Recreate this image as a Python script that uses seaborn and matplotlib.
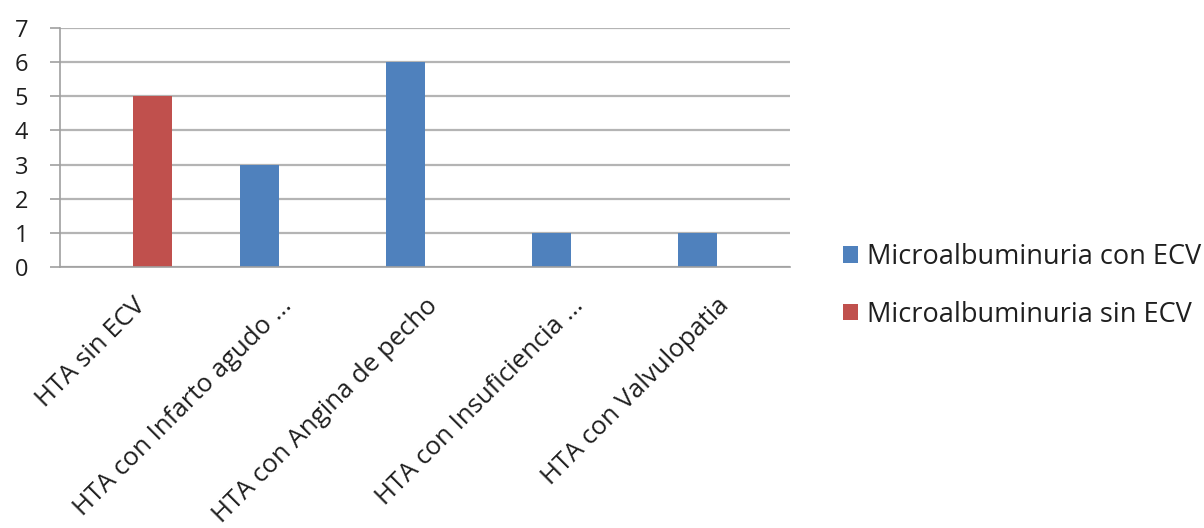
import matplotlib
matplotlib.use("Agg")
import matplotlib.pyplot as plt
import matplotlib.transforms as mtransforms
import seaborn as sns
import pandas as pd

categories = [
    "HTA sin ECV",
    "HTA con Infarto agudo ...",
    "HTA con Angina de pecho",
    "HTA con Insuficiencia ...",
    "HTA con Valvulopatia",
]
series_names = ["Microalbuminuria con ECV", "Microalbuminuria sin ECV"]
con_ecv = [0, 3, 6, 1, 1]
sin_ecv = [5, 0, 0, 0, 0]
y_ticks = [0, 1, 2, 3, 4, 5, 6, 7]

colors = ["#4F81BD", "#C0504D"]

df = pd.DataFrame({
    "categoria": categories * 2,
    "serie": [series_names[0]] * len(categories) + [series_names[1]] * len(categories),
    "valor": con_ecv + sin_ecv,
})

sns.set_style("white")
plt.rcParams["font.family"] = ["Open Sans", "DejaVu Sans"]
text_color = "#1f1f1f"

fig = plt.figure(figsize=(12.04, 5.28), dpi=100)
ax = fig.add_axes([0.0498, 0.4943, 0.6063, 0.4527])

sns.barplot(
    data=df, x="categoria", y="valor", hue="serie",
    order=categories, hue_order=series_names,
    palette=colors, width=0.54, gap=0, saturation=1,
    linewidth=0, ax=ax, legend=True,
)

ax.set_xlim(-0.5, len(categories) - 0.5)
ax.set_ylim(0, 7)
ax.set_yticks(y_ticks)
ax.set_yticklabels([str(t) for t in y_ticks], fontsize=17, color=text_color)
ax.yaxis.grid(True, color="#B4B4B4", linewidth=1.6)
ax.set_axisbelow(True)

# category boundaries carry the x tick marks, labels sit under the centres
ax.set_xticks([i - 0.5 for i in range(len(categories) + 1)], minor=False)
ax.set_xticklabels([])
ax.set_xticks(range(len(categories)), minor=True)
ax.set_xticklabels(categories, minor=True, rotation=45, ha="right",
                   rotation_mode="anchor", fontsize=18.5, color=text_color)
shift = mtransforms.ScaledTranslation(-8 / 100, 0, fig.dpi_scale_trans)
for lbl in ax.get_xticklabels(minor=True):
    lbl.set_transform(lbl.get_transform() + shift)
ax.tick_params(axis="x", which="major", length=7, width=1.2, color="#A0A0A0",
               direction="out")
ax.tick_params(axis="x", which="minor", length=0, pad=19)
ax.tick_params(axis="y", length=7, width=1.2, color="#A0A0A0", pad=16)
ax.tick_params(axis="y", which="major", left=True)

for side in ["top", "right"]:
    ax.spines[side].set_visible(False)
for side in ["left", "bottom"]:
    ax.spines[side].set_color("#A0A0A0")
    ax.spines[side].set_linewidth(1.2)

ax.set_xlabel("")
ax.set_ylabel("")

handles, labels = ax.get_legend_handles_labels()
ax.legend(handles, labels, loc="center left",
          bbox_to_anchor=(843 / 1204, 1 - 286 / 528), bbox_transform=fig.transFigure,
          frameon=False, fontsize=19.5, handlelength=0.55, handleheight=0.55,
          handletextpad=0.32, labelspacing=1.1, labelcolor=text_color,
          borderpad=0, borderaxespad=0)

fig.savefig("out.png", dpi=100)
